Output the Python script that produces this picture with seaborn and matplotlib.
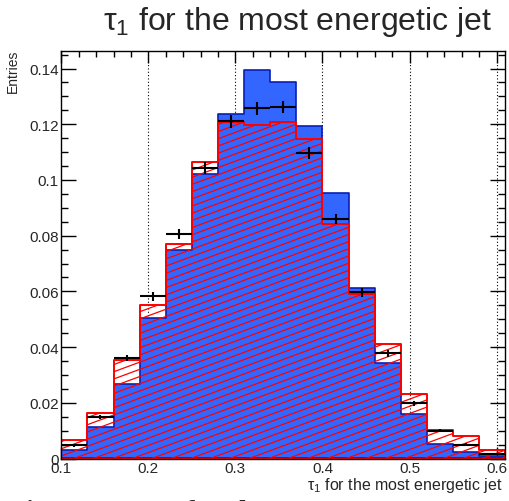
import numpy as np
import pandas as pd
import matplotlib
matplotlib.use("Agg")
import matplotlib.pyplot as plt
import seaborn as sns
from matplotlib.ticker import MultipleLocator
from matplotlib.collections import LineCollection

# ---- data ----
bin_edges = [0.10, 0.13, 0.16, 0.19, 0.22, 0.25, 0.28, 0.31, 0.34, 0.37,
             0.40, 0.43, 0.46, 0.49, 0.52, 0.55, 0.58, 0.61]
blue_values = [0.0032, 0.0113, 0.0266, 0.0503, 0.0749, 0.1022, 0.1236, 0.1396, 0.1353,
               0.1195, 0.0953, 0.0613, 0.0342, 0.0159, 0.0051, 0.0022, 0.0010]
red_values = [0.0065, 0.0163, 0.0355, 0.0551, 0.0769, 0.1064, 0.1207, 0.1197, 0.1207,
              0.1147, 0.0842, 0.0590, 0.0410, 0.0230, 0.0102, 0.0080, 0.0029]
data_values = [0.0048, 0.0149, 0.0361, 0.0582, 0.0806, 0.1042, 0.1210, 0.1257, 0.1262,
               0.1097, 0.0860, 0.0597, 0.0378, 0.0198, 0.0100, 0.0050, 0.0016]
data_errors = [0.0005, 0.0008, 0.0012, 0.0016, 0.0018, 0.0021, 0.0023, 0.0023, 0.0023,
               0.0022, 0.0019, 0.0016, 0.0013, 0.0009, 0.0006, 0.0004, 0.0002]
x_ticks = [0.1, 0.2, 0.3, 0.4, 0.5, 0.6]
x_tick_labels = ["0.1", "0.2", "0.3", "0.4", "0.5", "0.6"]
y_ticks = [0, 0.02, 0.04, 0.06, 0.08, 0.1, 0.12, 0.14]
y_tick_labels = ["0", "0.02", "0.04", "0.06", "0.08", "0.1", "0.12", "0.14"]
title_text = r"$\mathrm{\tau}_{1}$ for the most energetic jet"
xlabel_text = r"$\mathrm{\tau}_{1}$ for the most energetic jet"
ylabel_text = "Entries"
caption_text = r"Figure 3:   $\mathbf{\tau}_1$  for the"

edges = np.array(bin_edges)
centers = 0.5 * (edges[:-1] + edges[1:])
df = pd.DataFrame({"x": centers, "blue": blue_values, "red": red_values})

sns.set_style("white")
plt.rcParams["font.family"] = ["Liberation Sans", "DejaVu Sans"]
plt.rcParams["mathtext.fontset"] = "custom"
plt.rcParams["mathtext.rm"] = "Liberation Sans"
plt.rcParams["mathtext.it"] = "Liberation Sans:italic"
plt.rcParams["mathtext.bf"] = "Liberation Serif:bold"

fig = plt.figure(figsize=(5.09, 5.02), dpi=100)
W, H = 509, 502
ax_px_w, ax_px_h = 505.3 - 61.3, 459.5 - 51.7
ax = fig.add_axes([61.3 / W, 1 - 459.5 / H, ax_px_w / W, ax_px_h / H])

# grid (behind)
for xv in x_ticks[1:]:
    ax.axvline(xv, color="black", linestyle=(0, (1, 2)), linewidth=0.8, zorder=0)

sns.histplot(data=df, x="x", weights="blue", bins=list(bin_edges), element="step", fill=True,
             stat="count", color="#3366ff", facecolor="#3366ff", edgecolor="#0a1fb0",
             linewidth=1.2, ax=ax, zorder=1)
sns.histplot(data=df, x="x", weights="red", bins=list(bin_edges), element="step", fill=True,
             stat="count", color="#ff0000", facecolor="none", edgecolor="#ff0000",
             linewidth=1.4, ax=ax, zorder=2.2)
red_poly = ax.collections[-1]

ax.set_xlim(0.1, 0.61)
ax.set_ylim(0, 0.1464)

# ROOT-style shallow hatch, clipped to the red histogram
slope = 0.37 * ax_px_w / ax_px_h
spacing = 7.2 / ax_px_h
offsets = np.arange(-slope - 0.05, 1.05, spacing)
segs = [[(0.0, c), (1.0, c + slope)] for c in offsets]
hatch = LineCollection(segs, colors="#ff0000", linewidths=0.9, transform=ax.transAxes,
                       zorder=2.1)
ax.add_collection(hatch)
hatch.set_clip_path(red_poly.get_paths()[0], red_poly.get_transform())

ax.errorbar(centers, data_values, xerr=0.015, yerr=data_errors, fmt="none",
            ecolor="black", elinewidth=1.5, capsize=0, zorder=3)

ax.set_xticks(x_ticks)
ax.set_xticklabels(x_tick_labels)
ax.set_yticks(y_ticks)
ax.set_yticklabels(y_tick_labels)
ax.xaxis.set_minor_locator(MultipleLocator(0.02))
ax.yaxis.set_minor_locator(MultipleLocator(0.005))
ax.tick_params(axis="x", which="major", direction="in", top=True, bottom=True,
               length=8.5, width=1.0, labelsize=11, pad=2, color="black")
ax.tick_params(axis="x", which="minor", direction="in", top=True, bottom=True,
               length=4.5, width=1.0, color="black")
ax.tick_params(axis="y", which="major", direction="in", left=True, right=True,
               length=10.5, width=1.0, labelsize=11, pad=2, color="black")
ax.tick_params(axis="y", which="minor", direction="in", left=True, right=True,
               length=5, width=1.0, color="black")
ax.set_xlabel("")
ax.set_ylabel("")
for s in ax.spines.values():
    s.set_visible(True)
    s.set_color("black")
    s.set_linewidth(1.0)
    s.set_zorder(5)

fig.text(298 / W, 1 - 5 / H, title_text, ha="center", va="top", fontsize=23)
fig.text(503 / W, 1 - 490 / H, xlabel_text, ha="right", va="baseline", fontsize=11.5)
fig.text(13 / W, 1 - 50 / H, ylabel_text, ha="center", va="top", rotation=90, fontsize=10)
fig.text(8 / W, 1 - 498 / H, caption_text, ha="left", va="top", fontsize=21,
         family=["Liberation Serif", "DejaVu Serif"], weight="bold")

fig.savefig("out.png", dpi=100)
